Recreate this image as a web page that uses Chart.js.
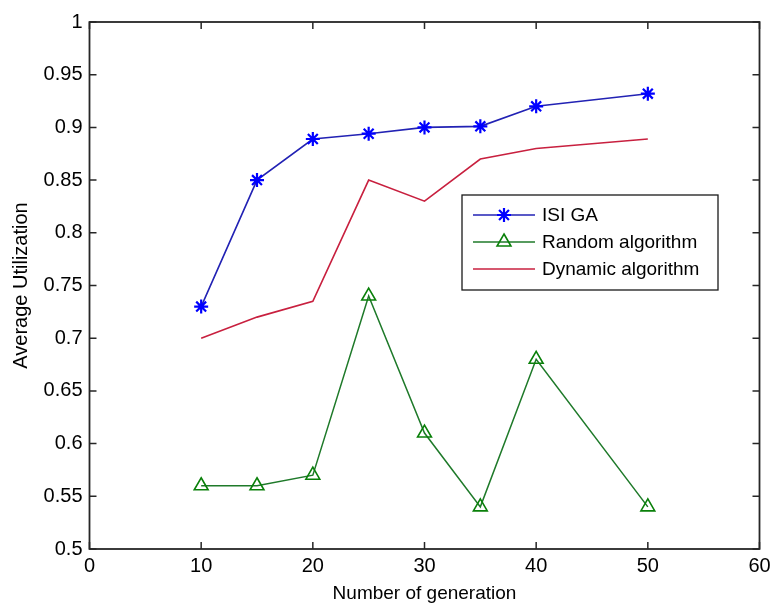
<!DOCTYPE html>
<html>
<head>
<meta charset="utf-8">
<script src="https://cdn.jsdelivr.net/npm/chart.js@4/dist/chart.umd.min.js"></script>
<style>
  html, body { margin: 0; padding: 0; background: #ffffff; }
  #wrap { width: 772px; height: 605px; }
</style>
</head>
<body>
<div id="wrap"><canvas id="c" width="772" height="605"></canvas></div>
<script>
// Generations on the x axis
const generations = [10, 15, 20, 25, 30, 35, 40, 50];

// Average utilization for each algorithm
const isiGA   = [0.73, 0.85, 0.889, 0.894, 0.90, 0.901, 0.92, 0.932];
const randomAlg = [0.56, 0.56, 0.57, 0.74, 0.61, 0.54, 0.68, 0.54];
const dynamicAlg = [0.70, 0.72, 0.735, 0.85, 0.83, 0.87, 0.88, 0.889];

const seriesNames = ['ISI GA', 'Random algorithm', 'Dynamic algorithm'];

// Axis ticks
const xTicks = [0, 10, 20, 30, 40, 50, 60];
const xTickLabels = ['0', '10', '20', '30', '40', '50', '60'];
const yTicks = [0.5, 0.55, 0.6, 0.65, 0.7, 0.75, 0.8, 0.85, 0.9, 0.95, 1];
const yTickLabels = ['0.5', '0.55', '0.6', '0.65', '0.7', '0.75', '0.8', '0.85', '0.9', '0.95', '1'];

const FONT = "'Liberation Sans', Arial, sans-serif";
const FONT_SIZE = 19;
const TICK_SIZE = 20;

function pts(ys) {
  return generations.map((x, i) => ({ x: x, y: ys[i] }));
}

// Box around the axes with inward ticks on all four sides
const axesBox = {
  id: 'axesBox',
  afterDatasetsDraw(chart) {
    const { ctx, chartArea: a, scales } = chart;
    const tl = 7;
    ctx.save();
    ctx.strokeStyle = '#262626';
    ctx.lineWidth = 1.5;
    ctx.beginPath();
    xTicks.forEach(v => {
      const px = scales.x.getPixelForValue(v);
      ctx.moveTo(px, a.bottom); ctx.lineTo(px, a.bottom - tl);
      ctx.moveTo(px, a.top); ctx.lineTo(px, a.top + tl);
    });
    yTicks.forEach(v => {
      const py = scales.y.getPixelForValue(v);
      ctx.moveTo(a.left, py); ctx.lineTo(a.left + tl, py);
      ctx.moveTo(a.right, py); ctx.lineTo(a.right - tl, py);
    });
    ctx.stroke();
    ctx.lineWidth = 1.8;
    ctx.strokeRect(a.left, a.top, a.right - a.left, a.bottom - a.top);
    ctx.restore();
  }
};

// Boxed legend with line samples and markers
const boxLegend = {
  id: 'boxLegend',
  afterDraw(chart) {
    const { ctx } = chart;
    const bx = 462, by = 195, bw = 256, bh = 95;
    const rows = [215, 242, 269];
    ctx.save();
    ctx.fillStyle = '#ffffff';
    ctx.fillRect(bx, by, bw, bh);
    ctx.strokeStyle = '#1a1a1a';
    ctx.lineWidth = 1.3;
    ctx.strokeRect(bx, by, bw, bh);
    chart.data.datasets.forEach((ds, i) => {
      const y = rows[i];
      ctx.strokeStyle = ds.borderColor;
      ctx.lineWidth = ds.borderWidth;
      ctx.beginPath();
      ctx.moveTo(473, y); ctx.lineTo(535, y);
      ctx.stroke();
      if (ds.pointRadius > 0) {
        ctx.strokeStyle = ds.pointBorderColor;
        ctx.fillStyle = ds.pointBackgroundColor;
        ctx.lineWidth = ds.pointBorderWidth;
        Chart.helpers.drawPoint(ctx, {
          pointStyle: ds.pointStyle, radius: ds.pointRadius, rotation: 0, borderWidth: ds.pointBorderWidth
        }, 504, y);
      }
      ctx.fillStyle = '#000000';
      ctx.font = FONT_SIZE + 'px ' + FONT;
      ctx.textBaseline = 'middle';
      ctx.textAlign = 'left';
      ctx.fillText(ds.label, 542, y + 1);
    });
    ctx.restore();
  }
};

new Chart(document.getElementById('c'), {
  type: 'line',
  data: {
    datasets: [
      {
        label: seriesNames[0],
        data: pts(isiGA),
        borderColor: '#2222b4',
        borderWidth: 1.6,
        pointStyle: 'star',
        pointRadius: 7,
        pointBorderWidth: 2.2,
        pointBorderColor: '#0000ff',
        pointBackgroundColor: '#0000ff',
        tension: 0
      },
      {
        label: seriesNames[1],
        data: pts(randomAlg),
        borderColor: '#1f7a2a',
        borderWidth: 1.5,
        pointStyle: 'triangle',
        pointRadius: 8,
        pointBorderWidth: 1.6,
        pointBorderColor: '#0a800a',
        pointBackgroundColor: 'rgba(255,255,255,0)',
        tension: 0
      },
      {
        label: seriesNames[2],
        data: pts(dynamicAlg),
        borderColor: '#c8203f',
        borderWidth: 1.6,
        pointRadius: 0,
        pointBorderWidth: 0,
        pointBorderColor: '#c8203f',
        pointBackgroundColor: '#c8203f',
        tension: 0
      }
    ]
  },
  options: {
    responsive: false,
    animation: false,
    events: [],
    layout: { padding: { top: 22, right: 12.5, bottom: 0, left: 0 } },
    plugins: {
      legend: { display: false },
      tooltip: { enabled: false }
    },
    scales: {
      x: {
        type: 'linear',
        min: 0,
        max: 60,
        afterBuildTicks(scale) { scale.ticks = xTicks.map(v => ({ value: v })); },
        afterFit(scale) {
          scale.height = 56;
          scale.paddingLeft = 0;
          scale.paddingRight = 0;
        },
        grid: { display: false, drawTicks: false },
        border: { display: false },
        ticks: {
          padding: 5,
          color: '#000000',
          font: { family: FONT, size: TICK_SIZE },
          maxRotation: 0,
          callback: (v) => xTickLabels[xTicks.indexOf(v)]
        },
        title: {
          display: true,
          text: 'Number of generation',
          color: '#000000',
          font: { family: FONT, size: FONT_SIZE },
          padding: { top: 1, bottom: 0 }
        }
      },
      y: {
        type: 'linear',
        min: 0.5,
        max: 1,
        afterBuildTicks(scale) { scale.ticks = yTicks.map(v => ({ value: v })); },
        afterFit(scale) { scale.width = 89.5; },
        grid: { display: false, drawTicks: false },
        border: { display: false },
        ticks: {
          padding: 7,
          color: '#000000',
          font: { family: FONT, size: TICK_SIZE },
          callback: (v) => yTickLabels[yTicks.indexOf(v)]
        },
        title: {
          display: true,
          text: 'Average Utilization',
          color: '#000000',
          font: { family: FONT, size: 20 },
          padding: { top: 9, bottom: 0 }
        }
      }
    }
  },
  plugins: [axesBox, boxLegend]
});
</script>
</body>
</html>
